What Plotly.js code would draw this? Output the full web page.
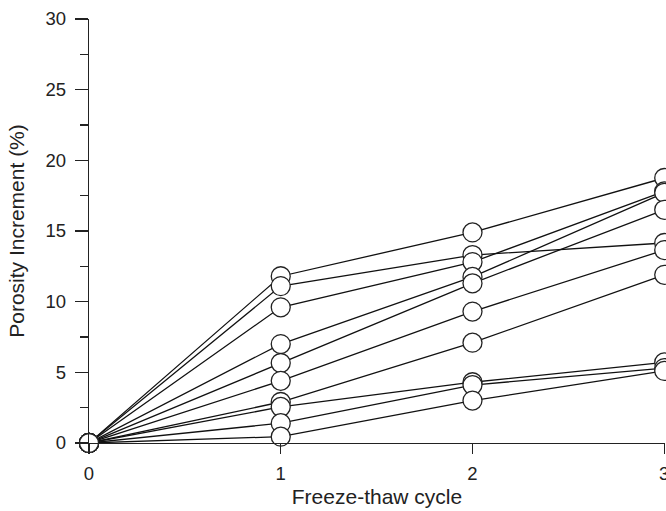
<!DOCTYPE html>
<html>
<head>
<meta charset="utf-8">
<script src="https://cdn.plot.ly/plotly-3.0.1.min.js"></script>
<style>
  html, body { margin: 0; padding: 0; background: #fff; }
  #chart { width: 666px; height: 511px; }
</style>
</head>
<body>
<div id="chart"></div>
<script>
// Freeze-thaw cycles
const cycles = [0, 1, 2, 3];
const cycleTickLabels = ['0', '1', '2', '3'];

// Porosity increment (%) per specimen
const s1  = [0, 11.8, 14.9, 18.75];
const s2  = [0, 11.1, 13.3, 14.15];
const s3  = [0, 9.6, 12.8, 17.8];
const s4  = [0, 7.0, 11.75, 17.7];
const s5  = [0, 5.66, 11.3, 16.5];
const s6  = [0, 4.4, 9.3, 13.65];
const s7  = [0, 2.9, 7.1, 11.9];
const s8  = [0, 2.55, 4.3, 5.7];
const s9  = [0, 1.4, 4.1, 5.3];
const s10 = [0, 0.45, 3.0, 5.1];

const yTickVals = [0, 5, 10, 15, 20, 25, 30];
const yTickText = ['0', '5', '10', '15', '20', '25', '30'];

const seriesList = [s1, s2, s3, s4, s5, s6, s7, s8, s9, s10];

const lineTraces = seriesList.map(s => ({
  x: cycles, y: s, type: 'scatter', mode: 'lines',
  line: { color: '#111', width: 1.3 },
  hoverinfo: 'skip', showlegend: false, cliponaxis: false
}));
const markerTraces = seriesList.map(s => ({
  x: cycles, y: s, type: 'scatter', mode: 'markers',
  marker: { symbol: 'circle', size: 19, color: '#fff', line: { color: '#222', width: 1.3 } },
  showlegend: false, cliponaxis: false
}));

const tickFont = { family: '"Liberation Sans", Arial, sans-serif', color: '#222', size: 18.5 };
const titleFont = { family: '"Liberation Sans", Arial, sans-serif', color: '#222', size: 21 };

const layout = {
  width: 666, height: 511,
  margin: { l: 89, r: 1, t: 19, b: 68 },
  paper_bgcolor: '#fff', plot_bgcolor: '#fff',
  font: tickFont,
  showlegend: false,
  xaxis: {
    range: [0, 3.004], tickvals: cycles, ticktext: cycleTickLabels,
    showgrid: false, zeroline: false,
    showline: true, linecolor: '#222', linewidth: 1.3,
    ticks: 'outside', ticklen: 10, tickwidth: 1.3, tickcolor: '#222',
    tickfont: tickFont, ticklabelstandoff: 3, ticklabeloverflow: 'allow',
    title: { text: 'Freeze-thaw cycle', font: titleFont, standoff: 6 }
  },
  yaxis: {
    range: [0, 30], tickvals: yTickVals, ticktext: yTickText,
    showgrid: false, zeroline: false,
    showline: true, linecolor: '#222', linewidth: 1.3,
    ticks: 'outside', ticklen: 13, tickwidth: 1.3, tickcolor: '#222',
    minor: { ticks: 'outside', ticklen: 8, dtick: 2.5, tickwidth: 1.3, tickcolor: '#222', showgrid: false },
    tickfont: tickFont, ticklabelstandoff: 5,
    title: { text: 'Porosity Increment (%)', font: titleFont, standoff: 15 }
  }
};

Plotly.newPlot('chart', lineTraces.concat(markerTraces), layout, { staticPlot: true, displayModeBar: false });
</script>
</body>
</html>
